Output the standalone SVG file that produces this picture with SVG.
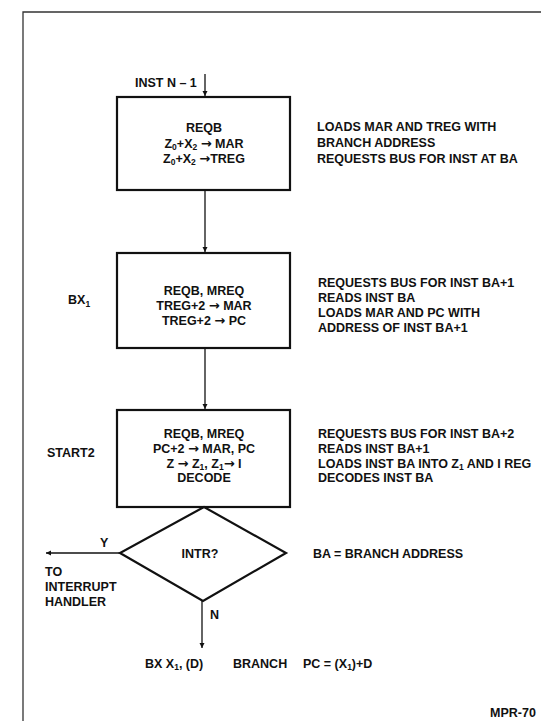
<svg xmlns="http://www.w3.org/2000/svg" width="541" height="721" viewBox="0 0 541 721">
<defs>
<style>
text{font-family:"Liberation Sans",Arial,sans-serif;font-weight:bold;font-size:12.5px;fill:#111}
.c{text-anchor:middle}
.box{fill:#fff;stroke:#111;stroke-width:2.2}
.ln{stroke:#111;stroke-width:1.3;fill:none}
.s{font-size:8.5px}
.a{font-family:"DejaVu Sans",sans-serif;font-size:13px}
</style>
<marker id="ah" viewBox="0 0 10 10" refX="10" refY="5" markerWidth="5" markerHeight="7" orient="auto" markerUnits="userSpaceOnUse">
<path d="M0,0 L10,5 L0,10 z" fill="#111"/>
</marker>
</defs>
<rect width="541" height="721" fill="#fff"/>
<g id="frame">
<path d="M23,721 V12 H541" stroke="#333" stroke-width="1.3" fill="none"/>
</g>
<g id="connectors">
<path class="ln" d="M205,74 V96" marker-end="url(#ah)"/>
<path class="ln" d="M205,190 V252" marker-end="url(#ah)"/>
<path class="ln" d="M205,348 V409" marker-end="url(#ah)"/>
<path class="ln" d="M120,553 H46" marker-end="url(#ah)"/>
<path class="ln" d="M202,601 V648" marker-end="url(#ah)"/>
</g>
<g id="start">
<text x="135" y="87">INST N – 1</text>
</g>
<g id="box1">
<rect class="box" x="117" y="97" width="173" height="93"/>
<text class="c" x="204" y="132">REQB</text>
<text class="c" x="204" y="148">Z<tspan class="s" dy="2">0</tspan><tspan dy="-2">+X</tspan><tspan class="s" dy="2">2</tspan><tspan dy="-2"> </tspan><tspan class="a">→</tspan> MAR</text>
<text class="c" x="204" y="163">Z<tspan class="s" dy="2">0</tspan><tspan dy="-2">+X</tspan><tspan class="s" dy="2">2</tspan><tspan dy="-2"> </tspan><tspan class="a">→</tspan>TREG</text>
</g>
<g id="note1">
<text x="317" y="131">LOADS MAR AND TREG WITH</text>
<text x="317" y="147">BRANCH ADDRESS</text>
<text x="317" y="163">REQUESTS BUS FOR INST AT BA</text>
</g>
<g id="box2">
<rect class="box" x="117" y="253" width="173" height="95"/>
<text class="c" x="204" y="295">REQB, MREQ</text>
<text class="c" x="204" y="310">TREG+2 <tspan class="a">→</tspan> MAR</text>
<text class="c" x="204" y="325">TREG+2 <tspan class="a">→</tspan> PC</text>
<text x="68" y="304">BX<tspan class="s" dy="3">1</tspan></text>
</g>
<g id="note2">
<text x="318" y="287">REQUESTS BUS FOR INST BA+1</text>
<text x="318" y="302">READS INST BA</text>
<text x="318" y="317">LOADS MAR AND PC WITH</text>
<text x="318" y="332">ADDRESS OF INST BA+1</text>
</g>
<g id="box3">
<rect class="box" x="117" y="410" width="173" height="97"/>
<text class="c" x="204" y="438">REQB, MREQ</text>
<text class="c" x="204" y="453">PC+2 <tspan class="a">→</tspan> MAR, PC</text>
<text class="c" x="204" y="468">Z <tspan class="a">→</tspan> Z<tspan class="s" dy="2">1</tspan><tspan dy="-2">, Z</tspan><tspan class="s" dy="2">1</tspan><tspan dy="-2" class="a">→</tspan> I</text>
<text class="c" x="204" y="482">DECODE</text>
<text x="47" y="457">START2</text>
</g>
<g id="note3">
<text x="318" y="438">REQUESTS BUS FOR INST BA+2</text>
<text x="318" y="453">READS INST BA+1</text>
<text x="318" y="468">LOADS INST BA INTO Z<tspan class="s" dy="2">1</tspan><tspan dy="-2"> AND I REG</tspan></text>
<text x="318" y="482">DECODES INST BA</text>
</g>
<g id="decision">
<path d="M204,507 L286,553 L203,601 L120,553 Z" fill="#fff" stroke="#111" stroke-width="2.2"/>
<text class="c" x="200" y="558">INTR?</text>
<text x="100" y="547">Y</text>
<text x="210" y="619">N</text>
<text x="313" y="558">BA = BRANCH ADDRESS</text>
</g>
<g id="handler">
<text x="45" y="576">TO</text>
<text x="45" y="591">INTERRUPT</text>
<text x="45" y="606">HANDLER</text>
</g>
<g id="result">
<text x="145" y="668">BX X<tspan class="s" dy="2">1</tspan><tspan dy="-2">, (D)</tspan></text>
<text x="233" y="668">BRANCH</text>
<text x="303" y="668">PC = (X<tspan class="s" dy="2">1</tspan><tspan dy="-2">)+D</tspan></text>
</g>
<g id="ref">
<text x="490" y="717">MPR-70</text>
</g>
</svg>
